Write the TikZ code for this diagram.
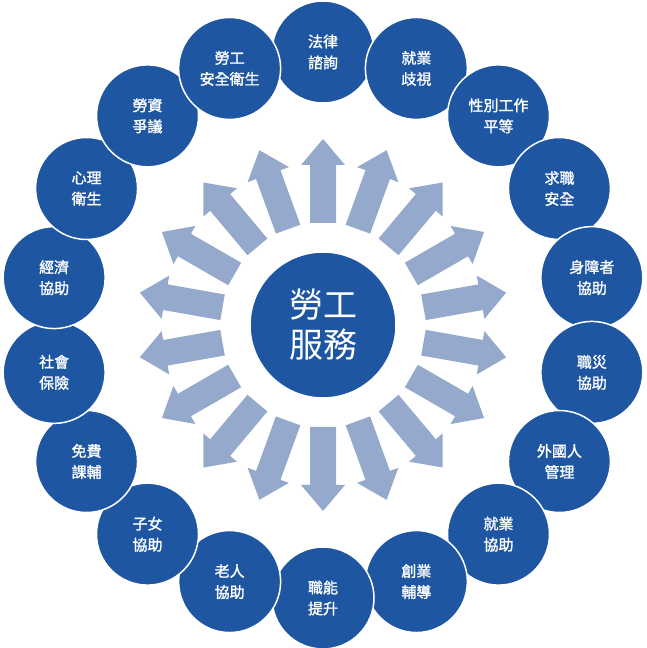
\documentclass[tikz,border=0pt]{standalone}
\usepackage{fontspec}
\usetikzlibrary{calc}
\newfontfamily\cjk{Noto Sans CJK TC}
\newfontfamily\cjkm[FakeBold=1.5]{Noto Sans CJK TC}
\definecolor{circ}{HTML}{1F56A2}
\definecolor{arr}{HTML}{95A9CD}
\begin{document}
\begin{tikzpicture}[x=1pt,y=1pt,
  outer/.style={circle,fill=circ,draw=white,line width=1.5pt,minimum size=102pt,inner sep=0,text=white,font=\cjkm\fontsize{15}{21}\selectfont,align=center},
  center/.style={circle,fill=circ,draw=white,line width=1.5pt,minimum size=146pt,inner sep=0,text=white,font=\cjk\fontsize{34}{40}\selectfont,align=center}]
\useasboundingbox (0,0) rectangle (646,648);
\coordinate (c) at (323,323);
\foreach \i in {0,...,17}{
  \pgfmathsetmacro\a{90-20*\i}
  \begin{scope}[shift={(c)},rotate=\a]
    \fill[arr] (102,-13)--(160,-13)--(160,-22)--(186,0)--(160,22)--(160,13)--(102,13)--cycle;
  \end{scope}
}
\node[center] (m) at (c) {勞工\\服務};
\foreach \t [count=\i from 0] in {法律\\諮詢,就業\\歧視,性別工作\\平等,求職\\安全,身障者\\協助,職災\\協助,外國人\\管理,就業\\協助,創業\\輔導,職能\\提升,老人\\協助,子女\\協助,免費\\課輔,社會\\保險,經濟\\協助,心理\\衛生,勞資\\爭議,勞工\\安全衛生}{
  \pgfmathsetmacro\a{90-20*\i}
  \node[outer] (o\i) at ($(c)+(\a:273)$) {\t};
}
\end{tikzpicture}
\end{document}
